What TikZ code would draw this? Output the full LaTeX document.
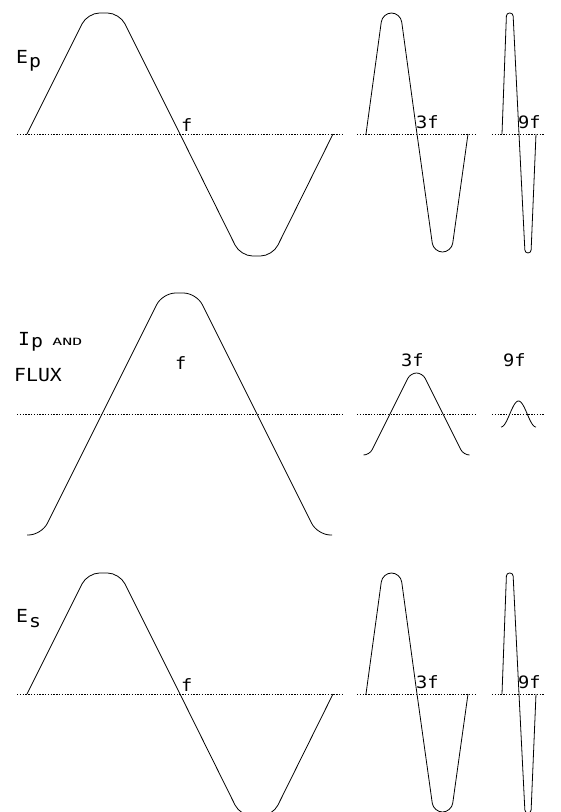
\documentclass[tikz,border=0pt]{standalone}
\usepackage{fontspec}
\usepackage{graphicx}
\setmainfont{DejaVu Sans Mono}[FakeStretch=1.1]
\usetikzlibrary{positioning}

\begin{document}
\begin{tikzpicture}[
    x=1pt, y=-1pt,
    wave/.style={line width=0.8pt, line join=round},
    zero/.style={line width=0.7pt, dash pattern=on 1.4pt off 1.4pt},
    lab/.style={anchor=base west, inner sep=0pt, font=\fontsize{18}{18}\selectfont},
    freq/.style={anchor=base west, inner sep=0pt, font=\fontsize{17}{17}\selectfont},
    small/.style={inner sep=0pt, font=\fontsize{10}{10}\selectfont}
]
    \useasboundingbox (0,0) rectangle (561,812);
    \clip (0,0) rectangle (561,812);

    % Primary voltage E_p
    \draw[zero] (17,134) -- (342,134);
    \draw[zero] (357,134) -- (477,134);
    \draw[zero] (492,134) -- (545,134);
    \draw[wave, rounded corners=12pt] (27,134) -- (87.5,13) -- (119.5,13) -- (180,134) -- (240.5,256) -- (272.5,256) -- (333,134);
    \draw[wave, rounded corners=9pt] (366,134) -- (382.5,13) -- (400.5,13) -- (417,134) -- (433.5,252) -- (451.5,252) -- (468,134);
    \draw[wave, rounded corners=3pt] (502,134) -- (506.5,13) -- (513,13) -- (519,134) -- (525,253) -- (531,253) -- (536,134);
    \node[lab] (ep) at (16,63) {E\kern1pt\raisebox{-4pt}{p}};
    \node[freq] (fp1) at (181,131.5) {f};
    \node[freq] (fp3) at (416,128.5) {3f};
    \node[freq] (fp9) at (518,128.5) {9f};

    % Primary current and flux
    \draw[zero] (17,414) -- (342,414);
    \draw[zero] (357,414) -- (477,414);
    \draw[zero] (492,414) -- (545,414);
    \draw[wave, rounded corners=13pt] (27,535) -- (41.5,535) -- (162.5,293) -- (196.5,293) -- (317.5,535) -- (332,535);
    \draw[wave, rounded corners=6pt] (363.5,455) -- (369.5,455) -- (410.5,373) -- (422.5,373) -- (463.5,455) -- (469.5,455);
    \draw[wave] plot[domain=0:360, samples=41] ({501+35*\x/360}, {414+13*cos(\x)});
    \node[lab] (ip) at (18,345.5) {I\kern1pt\raisebox{-2pt}{p}};
    \node[small, base right=9pt of ip] (and) {\scalebox{1.5}[1]{AND}};
    \node[lab] (flux) at (14,381.5) {FLUX};
    \node[freq] (ff1) at (175,369.5) {f};
    \node[freq] (ff3) at (401,366) {3f};
    \node[freq] (ff9) at (503,366) {9f};

    % Secondary voltage E_s
    \begin{scope}[yshift=-560pt]
        \draw[zero] (17,134) -- (342,134);
        \draw[zero] (357,134) -- (477,134);
        \draw[zero] (492,134) -- (545,134);
        \draw[wave, rounded corners=12pt] (27,134) -- (87.5,13) -- (119.5,13) -- (180,134) -- (240.5,256) -- (272.5,256) -- (333,134);
        \draw[wave, rounded corners=9pt] (366,134) -- (382.5,13) -- (400.5,13) -- (417,134) -- (433.5,252) -- (451.5,252) -- (468,134);
        \draw[wave, rounded corners=3pt] (502,134) -- (506.5,13) -- (513,13) -- (519,134) -- (525,253) -- (531,253) -- (536,134);
        \node[lab] (es) at (16,62) {E\kern1pt\raisebox{-5pt}{s}};
        \node[freq] (fs1) at (181,131.5) {f};
        \node[freq] (fs3) at (416,128.5) {3f};
        \node[freq] (fs9) at (518,128.5) {9f};
    \end{scope}
\end{tikzpicture}
\end{document}
